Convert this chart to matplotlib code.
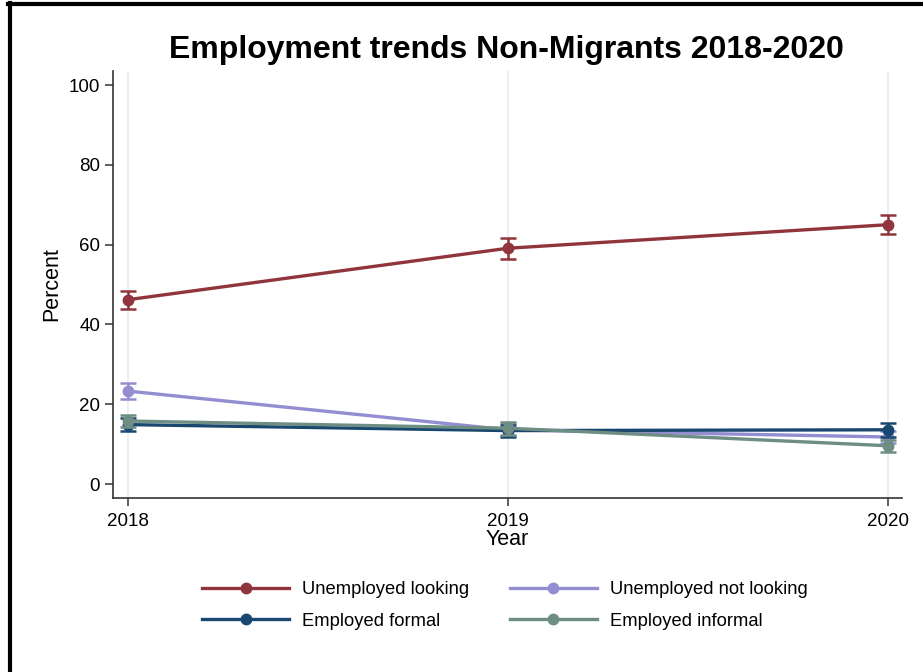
import numpy as np
import matplotlib
matplotlib.use('Agg')
import matplotlib.pyplot as plt
from matplotlib.lines import Line2D

plt.rcParams['font.family'] = ['Liberation Sans', 'DejaVu Sans']

# data
years = [2018, 2019, 2020]
series_names = ["Unemployed looking", "Unemployed not looking",
                "Employed formal", "Employed informal"]
unemp_looking = [46.2, 59.1, 65.0]
unemp_looking_err = [2.3, 2.6, 2.4]
unemp_not_looking = [23.3, 13.6, 11.8]
unemp_not_looking_err = [2.0, 1.6, 1.5]
emp_formal = [14.9, 13.4, 13.6]
emp_formal_err = [1.6, 1.5, 1.8]
emp_informal = [15.8, 14.0, 9.6]
emp_informal_err = [1.6, 1.6, 1.5]
y_ticks = [0, 20, 40, 60, 80, 100]

# stata s2color palette
colors = ['#90353b', '#938dd2', '#1a476f', '#6e8e84']

fig = plt.figure(figsize=(9.23, 6.72), dpi=100)
ax = fig.add_axes([0.1221, 0.2589, 0.8548, 0.6359])

values = [unemp_looking, unemp_not_looking, emp_formal, emp_informal]
errors = [unemp_looking_err, unemp_not_looking_err, emp_formal_err, emp_informal_err]

handles = []
for vals, errs, col, name in zip(values, errors, colors, series_names):
    ax.errorbar(years, vals, yerr=errs, fmt='none', ecolor=col,
                elinewidth=1.8, capsize=5.5, capthick=1.8, zorder=3)
    h, = ax.plot(years, vals, color=col, linewidth=2.4, marker='o',
                 markersize=7.5, label=name, zorder=3)
    handles.append(h)

ax.set_xlim(2017.96, 2020.037)
ax.set_ylim(-3.5, 103.6)
ax.set_xticks(years)
ax.set_yticks(y_ticks)
ax.tick_params(axis='both', labelsize=13.5, length=6, width=1.1, color='#333333')
ax.tick_params(axis='x', pad=5)
ax.tick_params(axis='y', pad=3)
ax.xaxis.grid(True, color='#e8eff1', linewidth=1.3)
ax.set_axisbelow(True)
for s in ['top', 'right']:
    ax.spines[s].set_visible(False)
for s in ['left', 'bottom']:
    ax.spines[s].set_linewidth(1.2)
    ax.spines[s].set_color('#333333')

ax.set_ylabel('Percent', fontsize=15.5, labelpad=5)
ax.set_xlabel('Year', fontsize=15.5, labelpad=-1)

fig.suptitle('Employment trends Non-Migrants 2018-2020', fontsize=23,
             fontweight='bold', x=0.549, y=0.948)

# legend filled column-wise, so reorder to get row-major layout
order = [0, 2, 1, 3]
fig.legend([handles[i] for i in order], [series_names[i] for i in order],
           loc='center', bbox_to_anchor=(0.547, 0.099), ncol=2, frameon=False,
           fontsize=13.2, handlelength=4.75, columnspacing=2.2,
           handletextpad=0.7, labelspacing=0.8)

# black frame of the screenshot (left and top)
fig.add_artist(Line2D([0.0108, 0.0108], [0, 0.995], transform=fig.transFigure,
                      color='black', linewidth=3))
fig.add_artist(Line2D([0.0092, 1.0], [0.9945, 0.9945], transform=fig.transFigure,
                      color='black', linewidth=3))

fig.savefig('out.png', dpi=100)
